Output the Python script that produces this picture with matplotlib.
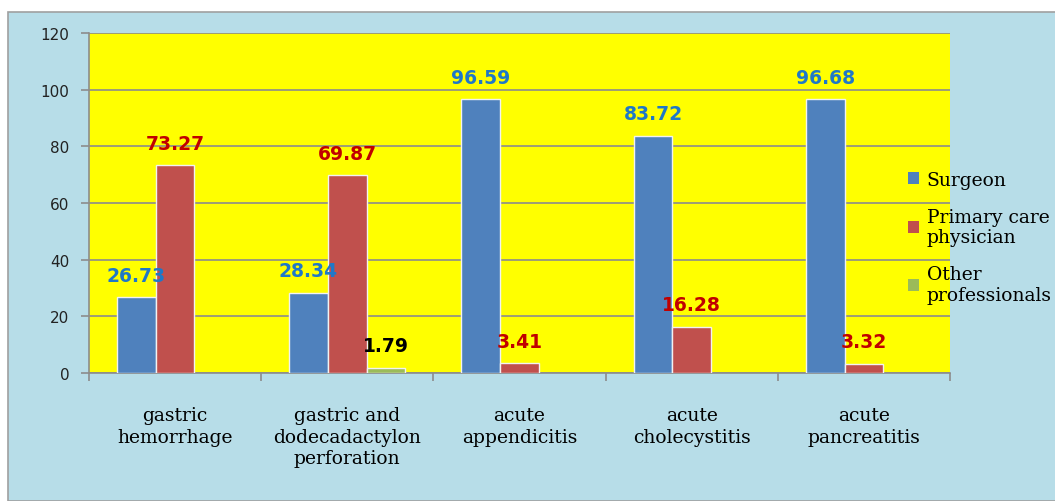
import numpy as np
import matplotlib.pyplot as plt
from matplotlib.patches import Rectangle

categories = ['gastric\nhemorrhage', 'gastric and\ndodecadactylon\nperforation',
              'acute\nappendicitis', 'acute\ncholecystitis', 'acute\npancreatitis']
surgeon = [26.73, 28.34, 96.59, 83.72, 96.68]
primary = [73.27, 69.87, 3.41, 16.28, 3.32]
other = [None, 1.79, None, None, None]

series = [
    ('Surgeon', surgeon, '#4F81BD', '#1F78C8'),
    ('Primary care\nphysician', primary, '#C0504D', '#C00000'),
    ('Other\nprofessionals', other, '#9BBB59', '#000000'),
]

fig = plt.figure(figsize=(10.55, 5.02), dpi=100, facecolor='white')
# blue chart area with grey frame
fig.patches.append(Rectangle((8 / 1055, 0), 1.0, 1 - 13 / 502, transform=fig.transFigure,
                             facecolor='#B7DDE8', edgecolor='#A0A0A0', lw=1.2, zorder=-1))

ax = fig.add_axes([89 / 1055, 1 - 374 / 502, (950 - 89) / 1055, (374 - 34) / 502])
ax.set_facecolor('#FFFF00')

x = np.arange(len(categories))
w = 0.225
for i, (name, vals, col, tcol) in enumerate(series):
    xs = [xi + (i - 1) * w for xi, v in zip(x, vals) if v is not None]
    vs = [v for v in vals if v is not None]
    ax.bar(xs, vs, width=w, color=col, edgecolor='#F2F2F2', lw=1, label=name, zorder=3)
    for xi, v in zip(xs, vs):
        ax.annotate(f'{v:.2f}', (xi, v), xytext=(0, 9), textcoords='offset points',
                    ha='center', va='bottom', color=tcol, fontsize=13.5,
                    fontweight='bold', family='DejaVu Sans', zorder=5)

ax.set_xlim(-0.5, len(categories) - 0.5)
ax.set_ylim(0, 120)
ax.set_yticks(range(0, 121, 20))
ax.yaxis.grid(True, color='#8C8C8C', lw=1.2, zorder=0)
ax.set_axisbelow(True)

ax.set_xticks(np.arange(-0.5, len(categories), 1.0))
ax.set_xticklabels([])
ax.set_xticks(x, minor=True)
ax.set_xticklabels(categories, minor=True, family='DejaVu Serif', fontsize=13.5,
                   linespacing=1.25)
ax.tick_params(axis='x', which='minor', length=0, pad=24)
ax.tick_params(axis='x', which='major', length=6, color='#8C8C8C', width=1.2)
ax.tick_params(axis='y', length=6, color='#8C8C8C', width=1.2, labelsize=11,
               labelcolor='#222222', pad=8)

for s in ['top', 'right']:
    ax.spines[s].set_visible(False)
for s in ['left', 'bottom']:
    ax.spines[s].set_color('#8C8C8C')
    ax.spines[s].set_linewidth(1.2)

leg = fig.legend(loc='upper left', bbox_to_anchor=(891 / 1055, 1 - 155 / 502),
                 frameon=False, prop={'family': 'DejaVu Serif', 'size': 13.5},
                 handlelength=0.6, handleheight=0.6, handletextpad=0.4,
                 labelspacing=1.0)
for h in leg.legend_handles:
    h.set_edgecolor('none')

fig.savefig('out.png', dpi=100, facecolor=fig.get_facecolor())
